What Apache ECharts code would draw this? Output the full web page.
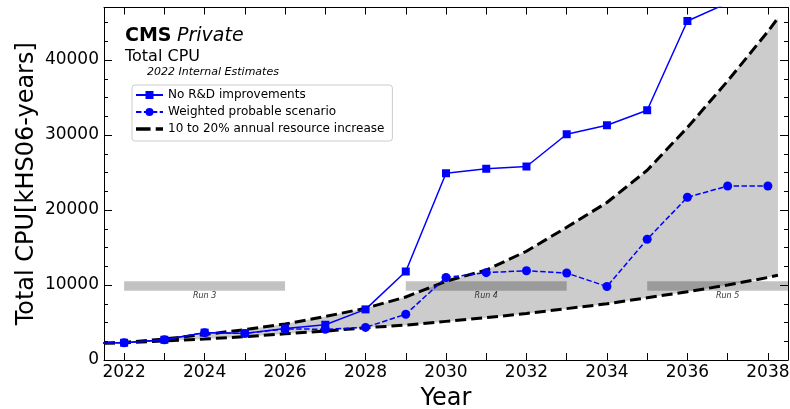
<!DOCTYPE html>
<html>
<head>
<meta charset="utf-8">
<script src="https://cdn.jsdelivr.net/npm/echarts@6/dist/echarts.min.js"></script>
<style>
  html, body { margin: 0; padding: 0; background: #ffffff; }
  #chart { width: 790px; height: 409px; }
</style>
</head>
<body>
<div id="chart"></div>
<script>
// CMS total CPU needs (kHS06-years), 2022 internal estimates
const years = [2021, 2022, 2023, 2024, 2025, 2026, 2027, 2028, 2029, 2030,
               2031, 2032, 2033, 2034, 2035, 2036, 2037, 2038];
const noRnD = [2250, 2300, 2700, 3650, 3550, 4200, 4700, 6750, 11800, 24900,
               25500, 25800, 30100, 31300, 33300, 45200, 47600];
const weighted = [2250, 2300, 2700, 3650, 3550, 4150, 4100, 4350, 6100, 11000,
                  11650, 11900, 11600, 9800, 16100, 21700, 23200, 23200];

// Flat-budget envelope: 10% (lower) to 20% (upper) yearly growth
const bandYears = [2021.5, 2022, 2023, 2024, 2025, 2026, 2027, 2028, 2029, 2030,
                   2031, 2032, 2033, 2034, 2035, 2036, 2037, 2038, 2038.25];
const bandUpper = [2250, 2350, 2800, 3400, 4050, 4800, 5800, 6900, 8400, 10500,
                   12000, 14500, 17700, 21000, 25300, 31000, 37200, 43800, 45600];
const bandLower = [2250, 2300, 2550, 2800, 3100, 3500, 3850, 4300, 4650, 5150,
                   5650, 6200, 6850, 7500, 8300, 9100, 10000, 11000, 11300];

// LHC run periods
const runNames = ['Run 3', 'Run 4', 'Run 5'];
const runStart = [2022, 2029, 2035];
const runEnd = [2026, 2033, 2039];
const runBand = [9250, 10500];

// Axis ticks
const xTickYears = [2022, 2023, 2024, 2025, 2026, 2027, 2028, 2029, 2030,
                    2031, 2032, 2033, 2034, 2035, 2036, 2037, 2038];
const xLabelYears = [2022, 2024, 2026, 2028, 2030, 2032, 2034, 2036, 2038];
const yMajor = [0, 10000, 20000, 30000, 40000];
const yMinor = [2500, 5000, 7500, 12500, 15000, 17500, 22500, 25000, 27500,
                32500, 35000, 37500, 42500, 45000];

const X_MIN = 2021.5, X_MAX = 2038.5, Y_MIN = 0, Y_MAX = 47000;
const FONT = '"DejaVu Sans", sans-serif';
const BLUE = '#0000ff';
const ENVELOPE = '10 to 20% annual resource increase';

const pairs = (xs, ys) => ys.map((v, i) => [xs[i], v]);

const chart = echarts.init(document.getElementById('chart'), null, { renderer: 'canvas' });

const axisLineStyle = { color: '#000', width: 1 };
const plain = v => String(v);

function xAxisDef(pos, withLabels) {
  return {
    type: 'value', min: X_MIN, max: X_MAX, position: pos,
    splitLine: { show: false },
    axisLine: { show: true, onZero: false, lineStyle: axisLineStyle },
    axisTick: { show: true, inside: true, length: 7, lineStyle: axisLineStyle, customValues: xTickYears },
    axisLabel: withLabels
      ? { show: true, customValues: xLabelYears, formatter: plain, fontFamily: FONT, fontSize: 17, color: '#000', margin: 4 }
      : { show: false },
    name: withLabels ? 'Year' : '',
    nameLocation: 'middle', nameGap: 27, nameMoveOverlap: false,
    nameTextStyle: { fontFamily: FONT, fontSize: 24, color: '#000' }
  };
}

function yAxisDef(pos, values, len, withLabels, showLine) {
  return {
    type: 'value', min: Y_MIN, max: Y_MAX, position: pos,
    splitLine: { show: false },
    axisLine: { show: showLine, onZero: false, lineStyle: axisLineStyle },
    axisTick: { show: true, inside: true, length: len, lineStyle: axisLineStyle, customValues: values },
    axisLabel: withLabels
      ? { show: true, customValues: yMajor, formatter: plain, fontFamily: FONT, fontSize: 17, color: '#000', margin: 5 }
      : { show: false },
    name: withLabels ? 'Total CPU[kHS06-years]' : '',
    nameLocation: 'middle', nameGap: 65, nameMoveOverlap: false,
    nameTextStyle: { fontFamily: FONT, fontSize: 24, color: '#000' }
  };
}

const option = {
  animation: false,
  backgroundColor: '#ffffff',
  grid: { left: 104, right: 2, top: 7.5, bottom: 49, containLabel: false, outerBoundsMode: 'none' },
  xAxis: [xAxisDef('bottom', true), xAxisDef('top', false)],
  yAxis: [
    yAxisDef('left', yMajor, 8, true, true),
    yAxisDef('left', yMinor, 4, false, false),
    yAxisDef('right', yMajor, 8, false, true),
    yAxisDef('right', yMinor, 4, false, false)
  ],
  legend: {
    data: [
      { name: 'No R&D improvements' },
      { name: 'Weighted probable scenario' },
      { name: ENVELOPE, icon: 'path://M0,0H14V3.5H0Z M19,0H26V3.5H19Z' }
    ],
    orient: 'vertical', left: 132, top: 85,
    padding: [4, 8, 6, 3], itemGap: 5, itemWidth: 27, itemHeight: 10,
    backgroundColor: '#ffffff', borderColor: '#cccccc', borderWidth: 1, borderRadius: 3,
    textStyle: { fontFamily: FONT, fontSize: 12, color: '#000' },
    selectedMode: false
  },
  graphic: [
    { type: 'text', x: 125, y: 36, z: 100, style: { text: 'CMS', font: 'bold 19px ' + FONT, fill: '#000', verticalAlign: 'middle' } },
    { type: 'text', x: 177, y: 36, z: 100, style: { text: 'Private', font: 'italic 19px ' + FONT, fill: '#000', verticalAlign: 'middle' } },
    { type: 'text', x: 125, y: 57, z: 100, style: { text: 'Total CPU', font: '16px ' + FONT, fill: '#000', verticalAlign: 'middle' } },
    { type: 'text', x: 147, y: 72, z: 100, style: { text: '2022 Internal Estimates', font: 'italic 11px ' + FONT, fill: '#000', verticalAlign: 'middle' } }
  ],
  series: [
    {
      // shaded envelope between the two growth curves
      type: 'custom', name: 'envelope-fill', silent: true, z: 1,
      data: [[bandYears[0], bandLower[0]]],
      renderItem: function (params, api) {
        const pts = [];
        for (let i = 0; i < bandYears.length; i++) pts.push(api.coord([bandYears[i], bandUpper[i]]));
        for (let i = bandYears.length - 1; i >= 0; i--) pts.push(api.coord([bandYears[i], bandLower[i]]));
        return { type: 'polygon', shape: { points: pts }, style: { fill: '#cccccc' } };
      }
    },
    {
      // run period bars with their labels
      type: 'custom', name: 'runs', silent: true, z: 2,
      encode: { x: [0, 1], y: [2, 3] },
      data: runNames.map((n, i) => [runStart[i], runEnd[i], runBand[0], runBand[1]]),
      renderItem: function (params, api) {
        const p0 = api.coord([api.value(0), api.value(3)]);
        const p1 = api.coord([api.value(1), api.value(2)]);
        const cs = params.coordSys;
        const rect = echarts.graphic.clipRectByRect(
          { x: p0[0], y: p0[1], width: p1[0] - p0[0], height: p1[1] - p0[1] },
          { x: cs.x, y: cs.y, width: cs.width, height: cs.height });
        if (!rect) return null;
        return {
          type: 'group',
          children: [
            { type: 'rect', shape: rect, style: { fill: 'rgba(0,0,0,0.24)' } },
            { type: 'text', style: {
                text: runNames[params.dataIndex], x: (p0[0] + p1[0]) / 2, y: p1[1] + 5,
                align: 'center', verticalAlign: 'middle',
                font: 'italic 8px ' + FONT, fill: '#333' } }
          ]
        };
      }
    },
    {
      type: 'line', name: ENVELOPE, z: 4, clip: true,
      data: pairs(bandYears, bandUpper), symbol: 'none',
      itemStyle: { color: '#000' },
      lineStyle: { color: '#000', width: 3, type: [11, 5] }
    },
    {
      type: 'line', name: ENVELOPE, z: 4, clip: true,
      data: pairs(bandYears, bandLower), symbol: 'none',
      itemStyle: { color: '#000' },
      lineStyle: { color: '#000', width: 3, type: [11, 5] }
    },
    {
      type: 'line', name: 'Weighted probable scenario', z: 5, clip: true,
      data: pairs(years, weighted), symbol: 'circle', symbolSize: 9,
      itemStyle: { color: BLUE },
      lineStyle: { color: BLUE, width: 1.5, type: [5.5, 2.4] }
    },
    {
      type: 'line', name: 'No R&D improvements', z: 6, clip: true,
      data: pairs(years, noRnD), symbol: 'rect', symbolSize: 8,
      itemStyle: { color: BLUE },
      lineStyle: { color: BLUE, width: 1.5 }
    }
  ]
};

chart.setOption(option);
</script>
</body>
</html>
